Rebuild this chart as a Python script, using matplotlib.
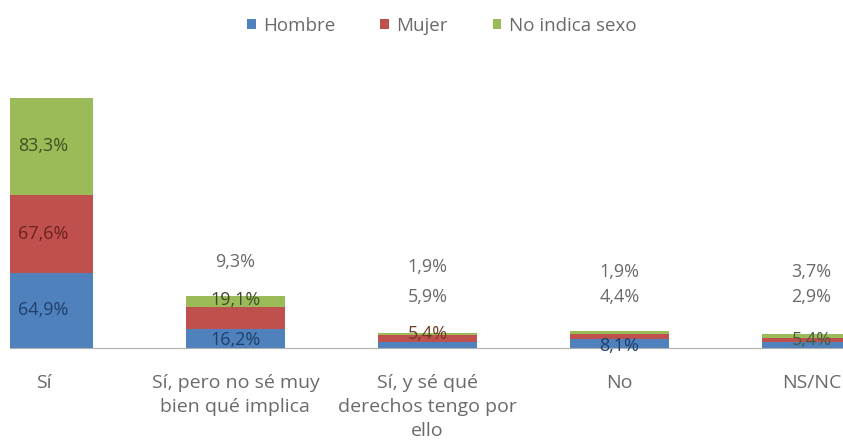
import matplotlib.pyplot as plt
import numpy as np

plt.rcParams["font.family"] = ["Open Sans", "DejaVu Sans"]

categories = ["Sí", "Sí, pero no sé muy\nbien qué implica", "Sí, y sé qué\nderechos tengo por\nello", "No", "NS/NC"]
series = ["Hombre", "Mujer", "No indica sexo"]
hombre = [64.9, 16.2, 5.4, 8.1, 5.4]
mujer = [67.6, 19.1, 5.9, 4.4, 2.9]
no_indica = [83.3, 9.3, 1.9, 1.9, 3.7]

colors = ["#4F81BD", "#C0504D", "#9BBB59"]
dark = ["#1F3F6B", "#6B2220", "#3F5220"]
gray = "#6A6A6A"

# label heights for the small bars (data units), moved by hand in the original
label_y = {
    1: [6.9, 41.5, 74.0],
    2: [12.0, 44.0, 70.0],
    3: [2.0, 44.0, 65.6],
    4: [7.0, 44.0, 65.6],
}

fig = plt.figure(figsize=(8.43, 4.44), dpi=100)
ax = fig.add_axes([10 / 843, 96 / 444, 833 / 843, 288 / 444])

x = np.arange(len(categories))
width = 0.52
values = [hombre, mujer, no_indica]
bottom = np.zeros(len(categories))
for i, (name, vals) in enumerate(zip(series, values)):
    vals = np.array(vals)
    ax.bar(x, vals, width, bottom=bottom, color=colors[i], label=name, zorder=2)
    for j, v in enumerate(vals):
        txt = f"{v:.1f}%".replace(".", ",")
        if j in label_y:
            y = label_y[j][i]
            c = gray
            if i == 0:
                c = dark[0] if j != 4 else "#4A5A3A"
            if j == 1 and i == 1:
                c = "#3F4A2A"
            if j == 2 and i == 0:
                c = "#6B3A20"
        else:
            y = bottom[j] + v / 2
            c = dark[i]
        ax.text(x[j], y, txt, ha="center", va="center", fontsize=13, color=c, zorder=3)
    bottom += vals

ax.set_xlim(-0.174, 4.164)
ax.set_ylim(0, 248.7)
ax.set_xticks(x)
ax.set_xticklabels(categories, fontsize=14, color=gray, linespacing=1.4, va="top")
ax.tick_params(axis="x", length=0, pad=19)
ax.set_yticks([])
for s in ["top", "left", "right"]:
    ax.spines[s].set_visible(False)
ax.spines["bottom"].set_color("#B0B0B0")

fig.legend(loc="upper center", bbox_to_anchor=(0.524, 1.0), ncol=3, frameon=False,
           fontsize=13.5, handlelength=0.45, handleheight=0.45, handletextpad=0.4,
           columnspacing=2.4, labelcolor=gray)

fig.savefig("out.png", dpi=100)
